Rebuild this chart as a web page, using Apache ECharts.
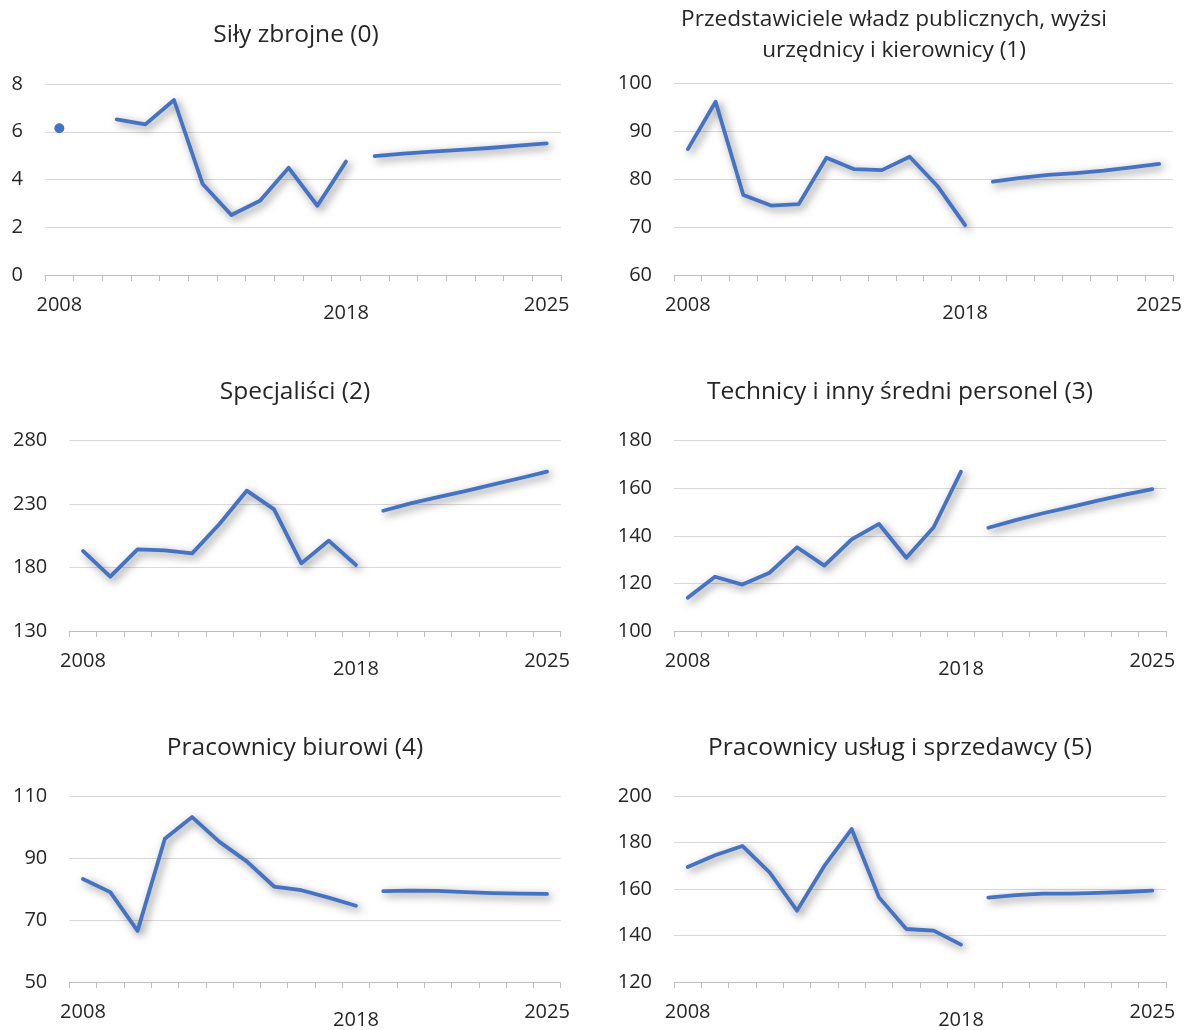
<!DOCTYPE html>
<html><head><meta charset="utf-8">
<script src="https://cdn.jsdelivr.net/npm/echarts@6/dist/echarts.min.js"></script>
<style>html,body{margin:0;padding:0;background:#fff}#c{width:1185px;height:1030px}</style>
</head><body><div id="c"></div>
<script>
const years = ['2008','2009','2010','2011','2012','2013','2014','2015','2016','2017','2018','2019','2020','2021','2022','2023','2024','2025'];
const shownYears = ['2008','2018','2025'];
const loweredYears = ['2018'];

const titles = [
  'Siły zbrojne (0)',
  'Przedstawiciele władz publicznych, wyżsi\nurzędnicy i kierownicy (1)',
  'Specjaliści (2)',
  'Technicy i inny średni personel (3)',
  'Pracownicy biurowi (4)',
  'Pracownicy usług i sprzedawcy (5)'
];

// historical values 2008-2018
const hist0 = [6.15, null, 6.52, 6.31, 7.33, 3.81, 2.51, 3.11, 4.49, 2.90, 4.75];
const hist1 = [86.3, 96.2, 76.7, 74.5, 74.8, 84.5, 82.1, 81.9, 84.7, 78.6, 70.4];
const hist2 = [193.1, 172.8, 194.4, 193.6, 191.2, 214.3, 240.6, 225.9, 183.3, 201.2, 182.0];
const hist3 = [114.0, 122.8, 119.5, 124.5, 135.2, 127.5, 138.5, 145.0, 130.8, 143.6, 167.0];
const hist4 = [83.2, 79.0, 66.5, 96.2, 103.2, 95.2, 88.9, 80.8, 79.6, 77.2, 74.6];
const hist5 = [169.5, 174.5, 178.5, 167.1, 150.7, 169.9, 185.8, 156.4, 142.8, 142.1, 136.1];

// forecast values 2019-2025
const fcst0 = [4.98, 5.08, 5.17, 5.24, 5.32, 5.42, 5.51];
const fcst1 = [79.5, 80.3, 80.9, 81.3, 81.8, 82.5, 83.2];
const fcst2 = [224.8, 230.6, 235.5, 240.2, 245.3, 250.4, 255.6];
const fcst3 = [143.4, 146.6, 149.5, 152.1, 154.8, 157.3, 159.6];
const fcst4 = [79.3, 79.5, 79.4, 79.0, 78.7, 78.5, 78.4];
const fcst5 = [156.3, 157.4, 158.0, 158.0, 158.3, 158.7, 159.3];

const yMin = [0, 60, 130, 100, 50, 120];
const yMax = [8, 100, 280, 180, 110, 200];
const yStep = [2, 10, 50, 20, 20, 20];

const hists = [hist0, hist1, hist2, hist3, hist4, hist5];
const fcsts = [fcst0, fcst1, fcst2, fcst3, fcst4, fcst5];

// layout
const grids = [
  {left: 45, top: 84, width: 516, height: 191},
  {left: 674, top: 83.5, width: 500, height: 191.5},
  {left: 69.3, top: 440.7, width: 491.4, height: 190.3},
  {left: 674, top: 440.7, width: 492, height: 190.3},
  {left: 69.3, top: 796, width: 491.4, height: 191.7},
  {left: 674, top: 796, width: 492, height: 192}
];
const titlePos = [
  {x: 296, y: 19.5, s: 24.5}, {x: 894, y: 4.5, s: 22.6}, {x: 295, y: 376.5, s: 24.5},
  {x: 900, y: 376.5, s: 24.5}, {x: 295, y: 732.5, s: 24.5}, {x: 900, y: 732.5, s: 24.5}
];

const FONT = '"Open Sans", sans-serif';
const TXT = '#262626';
const BLUE = '#4472C4';

function toItems(arr) {
  return arr.map((v, i) => {
    const isolated = v != null && (i === 0 || arr[i-1] == null) && (i === arr.length-1 || arr[i+1] == null);
    return isolated ? {value: v, symbol: 'circle', symbolSize: 10} : {value: v, symbol: 'none'};
  });
}

const option = {
  animation: false,
  backgroundColor: '#fff',
  title: titles.map((t, i) => ({
    text: t, left: titlePos[i].x, top: titlePos[i].y, textAlign: 'center', padding: 0,
    textStyle: {fontFamily: FONT, fontSize: titlePos[i].s, fontWeight: 'normal', color: TXT, lineHeight: 31}
  })),
  grid: grids.map(g => Object.assign({containLabel: false}, g)),
  xAxis: grids.map((g, i) => ({
    type: 'category', gridIndex: i, data: years, boundaryGap: true,
    axisLine: {lineStyle: {color: '#BFBFBF', width: 1}},
    axisTick: {show: true, interval: 0, length: 6, lineStyle: {color: '#BFBFBF'}},
    axisLabel: {
      interval: 0, margin: 20, fontFamily: FONT, fontSize: 20, color: TXT,
      formatter: v => shownYears.includes(v) ? (loweredYears.includes(v) ? '{low|' + v + '}' : v) : '',
      rich: {low: {fontFamily: FONT, fontSize: 20, color: TXT, padding: [8, 0, 0, 0]}}
    },
    splitLine: {show: false}
  })),
  yAxis: grids.map((g, i) => ({
    type: 'value', gridIndex: i, min: yMin[i], max: yMax[i], interval: yStep[i],
    axisLine: {show: false}, axisTick: {show: false},
    axisLabel: {fontFamily: FONT, fontSize: 20, color: TXT, margin: 22},
    splitLine: {lineStyle: {color: '#D9D9D9', width: 1}}
  })),
  series: []
};

const lineStyle = {color: BLUE, width: 3.8, cap: 'round', join: 'round',
  shadowColor: 'rgba(0,0,0,0.5)', shadowBlur: 8, shadowOffsetX: 3, shadowOffsetY: 3};

for (let i = 0; i < 6; i++) {
  const h = hists[i].concat(new Array(years.length - hists[i].length).fill(null));
  const f = new Array(years.length - fcsts[i].length).fill(null).concat(fcsts[i]);
  [h, f].forEach(arr => {
    option.series.push({
      type: 'line', xAxisIndex: i, yAxisIndex: i, data: toItems(arr),
      showSymbol: true, symbol: 'circle', connectNulls: false,
      itemStyle: {color: BLUE}, lineStyle: lineStyle, emphasis: {disabled: true}
    });
  });
}

const chart = echarts.init(document.getElementById('c'), null, {renderer: 'canvas'});
chart.setOption(option);
</script>
</body></html>
